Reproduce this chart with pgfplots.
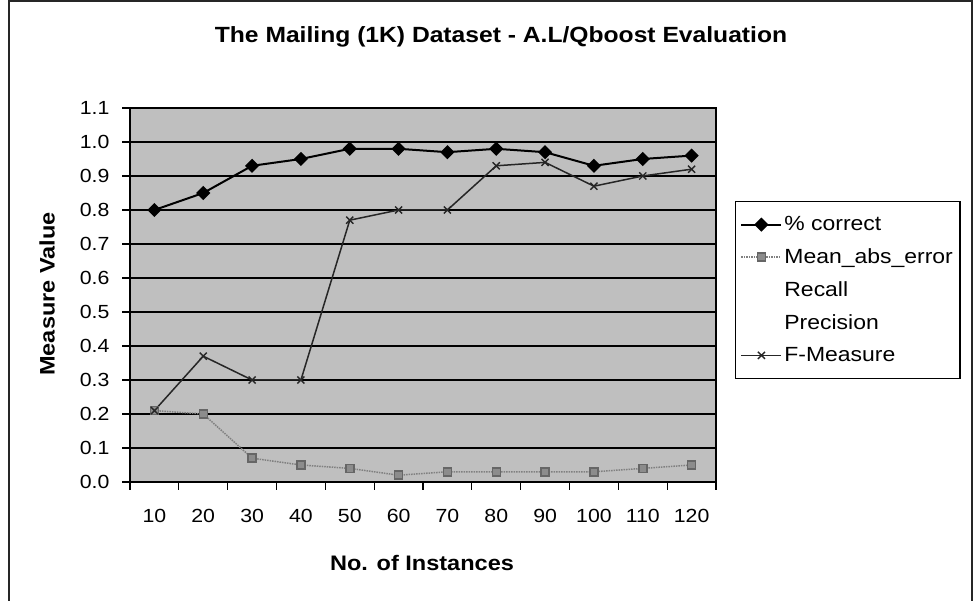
\documentclass[border=0pt]{standalone}
\usepackage{fontspec}
\setmainfont[FakeStretch=1.12]{Liberation Sans}
\usepackage{pgfplots}
\pgfplotsset{compat=1.18}
\begin{document}
\begin{tikzpicture}
\path[use as bounding box] (0pt,0pt) rectangle (974pt,601pt);
\draw[line width=1.5pt, black!85] (9pt,0pt) -- (9pt,600pt) -- (972pt,600pt) -- (972pt,0pt);
\begin{axis}[
  at={(130pt,119pt)}, anchor=south west,
  scale only axis, width=586pt, height=374pt,
  xmin=0.5, xmax=12.5, ymin=0, ymax=1.1,
  xtick={1,2,3,4,5,6,7,8,9,10,11,12},
  xticklabels={10,20,30,40,50,60,70,80,90,100,110,120},
  minor xtick={0.5,1.5,2.5,3.5,4.5,5.5,6.5,7.5,8.5,9.5,10.5,11.5,12.5},
  ytick={0,0.1,0.2,0.3,0.4,0.5,0.6,0.7,0.8,0.9,1.0,1.1},
  yticklabels={0.0,0.1,0.2,0.3,0.4,0.5,0.6,0.7,0.8,0.9,1.0,1.1},
  /pgf/number format/assume math mode=true,
  tick align=outside, tick pos=left,
  major tick length=8pt, minor tick length=8pt,
  major x tick style={draw=none},
  minor x tick style={black, line width=1.3pt},
  y tick style={black, line width=1.3pt},
  ymajorgrids, grid style={black, line width=1.6pt},
  axis line style={black, line width=1.5pt},
  axis background/.style={fill=black!25},
  tick label style={font=\fontsize{19}{21}\selectfont, black},
  yticklabel style={xshift=-9pt},
  xticklabel style={yshift=-16pt},
  legend style={at={(1.032,0.751)}, anchor=north west, draw=black, line width=1.3pt,
    fill=white, font=\fontsize{20.5}{23}\selectfont, row sep=12.5pt,
    inner xsep=5pt, inner ysep=13pt,
    cells={anchor=west}},
  legend image code/.code={\draw[mark repeat=2,mark phase=2] plot coordinates {(0pt,0pt) (20pt,0pt) (40pt,0pt)};},
]
\addplot[black, line width=2pt, mark=square*, mark size=4pt, mark options={rotate=45, solid, fill=black}]
  coordinates {(1,0.80) (2,0.85) (3,0.93) (4,0.95) (5,0.98) (6,0.98) (7,0.97) (8,0.98) (9,0.97) (10,0.93) (11,0.95) (12,0.96)};
\addlegendentry{\% correct}
\addplot[black!50, line width=1.5pt, densely dotted, mark=square*, mark size=4pt, mark options={solid, fill=black!45, draw=black!60}]
  coordinates {(1,0.21) (2,0.20) (3,0.07) (4,0.05) (5,0.04) (6,0.02) (7,0.03) (8,0.03) (9,0.03) (10,0.03) (11,0.04) (12,0.05)};
\addlegendentry{Mean\_abs\_error}
\addlegendimage{white, line width=1.5pt}
\addlegendentry{Recall}
\addlegendimage{white, line width=1.5pt}
\addlegendentry{Precision}
\addplot[black!85, line width=1.5pt, mark=x, mark size=5pt, mark options={solid, line width=1.4pt}]
  coordinates {(1,0.21) (2,0.37) (3,0.30) (4,0.30) (5,0.77) (6,0.80) (7,0.80) (8,0.93) (9,0.94) (10,0.87) (11,0.90) (12,0.92)};
\addlegendentry{F-Measure}
\end{axis}
\node[font=\bfseries\fontsize{22}{24}\selectfont] at (501pt,564pt) {The Mailing (1K) Dataset - A.L/Qboost Evaluation};
\node[font=\bfseries\fontsize{21}{24}\selectfont, rotate=90] at (47pt,307pt) {Measure Value};
\node[font=\bfseries\fontsize{21}{24}\selectfont] at (422pt,38pt) {No. of Instances};
\end{tikzpicture}
\end{document}
